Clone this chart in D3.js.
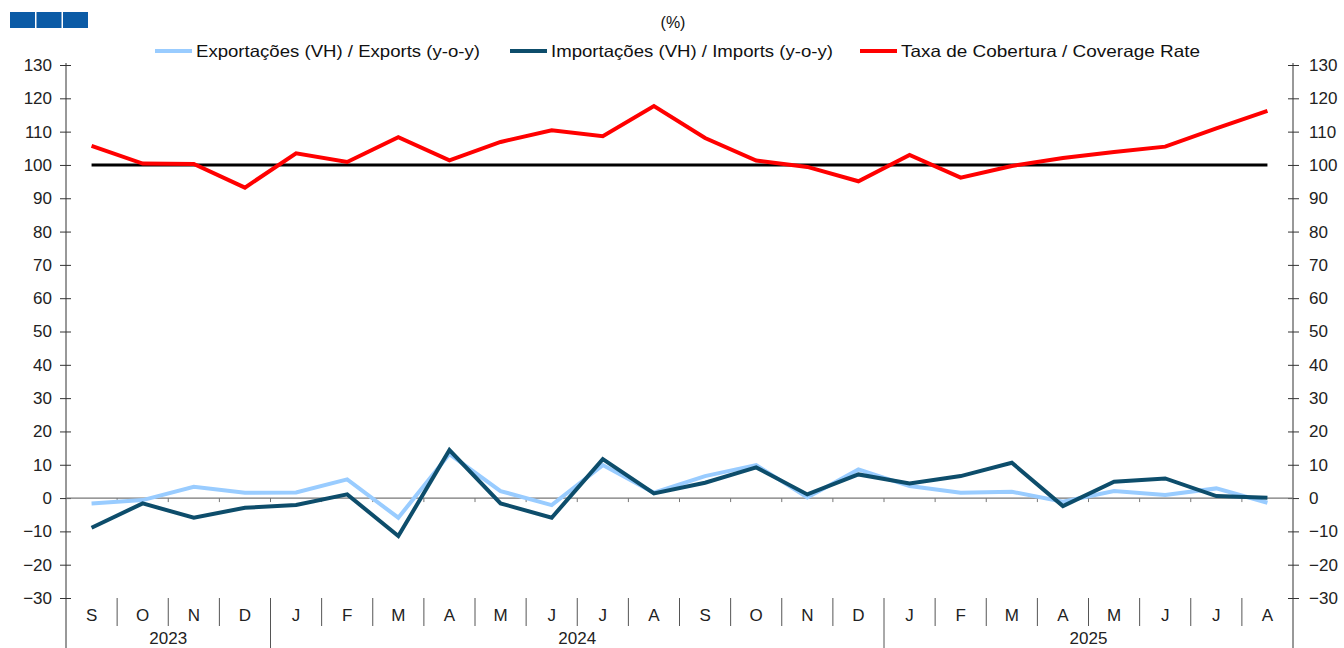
<!DOCTYPE html>
<html>
<head>
<meta charset="utf-8">
<script src="https://cdn.jsdelivr.net/npm/d3@7"></script>
<style>
  body { margin: 0; background: #fff; }
  svg { font-family: "Liberation Sans", Arial, sans-serif; }
</style>
</head>
<body>
<div id="chart"></div>
<script>
// months shown on the x axis, Sep 2023 - Aug 2025
var months = ["S","O","N","D","J","F","M","A","M","J","J","A","S","O","N","D","J","F","M","A","M","J","J","A"];
var years = [
  {label: "2023", from: 0, to: 4},
  {label: "2024", from: 4, to: 16},
  {label: "2025", from: 16, to: 24}
];

// series values (%)
var exportsYoy = [-1.6, -0.6, 3.4, 1.6, 1.7, 5.6, -5.9, 13.2, 2.1, -2.1, 9.9, 1.6, 6.6, 9.9, 0.2, 8.6, 3.6, 1.6, 1.9, -1.1, 2.1, 0.9, 2.9, -1.4];
var importsYoy = [-8.9, -1.6, -5.9, -2.9, -2.1, 1.1, -11.4, 14.4, -1.6, -5.9, 11.7, 1.4, 4.6, 9.2, 1.1, 7.1, 4.4, 6.6, 10.6, -2.4, 4.9, 5.9, 0.6, 0.1];
var coverage = [105.7, 100.4, 100.3, 93.2, 103.5, 100.9, 108.3, 101.4, 106.9, 110.4, 108.6, 117.7, 108.1, 101.3, 99.4, 95.1, 103.0, 96.2, 99.7, 102.1, 103.9, 105.5, 111.0, 116.2];

var yTicks = d3.range(-30, 131, 10);

var series = [
  {name: "Exportações (VH) / Exports (y-o-y)", values: exportsYoy, color: "#99ccff"},
  {name: "Importações (VH) / Imports (y-o-y)", values: importsYoy, color: "#0d4d6b"},
  {name: "Taxa de Cobertura / Coverage Rate", values: coverage, color: "#ff0000"}
];

var W = 1344, H = 648;
var margin = {left: 66, right: 1293, top: 65, bottom: 598};

var svg = d3.select("#chart").append("svg")
  .attr("width", W).attr("height", H);

// logo squares
svg.append("g").selectAll("rect")
  .data([0, 1, 2]).enter().append("rect")
    .attr("x", function(d) { return 10 + d * 26.5; })
    .attr("y", 12)
    .attr("width", 25)
    .attr("height", 16)
    .attr("fill", "#0b5ba6");

svg.append("text")
  .attr("x", 673).attr("y", 28)
  .attr("text-anchor", "middle")
  .attr("font-size", 16)
  .attr("fill", "#111")
  .text("(%)");

// scales
var x = d3.scaleBand()
  .domain(d3.range(months.length))
  .range([margin.left, margin.right])
  .padding(0);
var xc = function(i) { return x(i) + x.bandwidth() / 2; };

var y = d3.scaleLinear()
  .domain([-30, 130])
  .range([margin.bottom, margin.top]);

// left axis
var gl = svg.append("g")
  .attr("transform", "translate(" + margin.left + ",0)")
  .call(d3.axisLeft(y).tickValues(yTicks).tickSize(0).tickPadding(14).tickFormat(d3.format("d")));
gl.select(".domain").remove();
gl.selectAll(".tick").append("line").attr("x1", -6).attr("x2", 5).attr("stroke", "#333");
gl.append("line").attr("y1", margin.top - 2).attr("y2", H).attr("stroke", "#333");

// right axis
var gr = svg.append("g")
  .attr("transform", "translate(" + margin.right + ",0)")
  .call(d3.axisRight(y).tickValues(yTicks).tickSize(0).tickPadding(16).tickFormat(d3.format("d")));
gr.select(".domain").remove();
gr.selectAll(".tick").append("line").attr("x1", -5).attr("x2", 6).attr("stroke", "#333");
gr.append("line").attr("y1", margin.top - 2).attr("y2", H).attr("stroke", "#333");

svg.selectAll(".tick text").attr("font-size", 17).attr("fill", "#222")
  .attr("font-family", "Liberation Sans, Arial, sans-serif");

// zero line with month ticks
svg.append("line")
  .attr("x1", margin.left).attr("x2", margin.right)
  .attr("y1", y(0)).attr("y2", y(0))
  .attr("stroke", "#777").attr("stroke-width", 1.2);
svg.append("g").selectAll("line")
  .data(d3.range(1, months.length)).enter().append("line")
    .attr("x1", function(d) { return x(d); })
    .attr("x2", function(d) { return x(d); })
    .attr("y1", y(0)).attr("y2", y(0) + 4)
    .attr("stroke", "#777");

// category axis below the plot
var yearStarts = years.map(function(d) { return d.from; });
svg.append("g").selectAll("line")
  .data(d3.range(1, months.length)).enter().append("line")
    .attr("x1", function(d) { return x(d); })
    .attr("x2", function(d) { return x(d); })
    .attr("y1", margin.bottom)
    .attr("y2", function(d) { return yearStarts.indexOf(d) >= 0 ? H : 626; })
    .attr("stroke", "#555");

svg.append("g").selectAll("text")
  .data(months).enter().append("text")
    .attr("x", function(d, i) { return xc(i); })
    .attr("y", 621)
    .attr("text-anchor", "middle")
    .attr("font-size", 17)
    .attr("fill", "#222")
    .text(function(d) { return d; });

svg.append("g").selectAll("text")
  .data(years).enter().append("text")
    .attr("x", function(d) { return (x(d.from) + (d.to < months.length ? x(d.to) : margin.right)) / 2; })
    .attr("y", 644)
    .attr("text-anchor", "middle")
    .attr("font-size", 17)
    .attr("fill", "#222")
    .text(function(d) { return d.label; });

// 100 reference line
svg.append("line")
  .attr("x1", xc(0)).attr("x2", xc(months.length - 1))
  .attr("y1", y(100)).attr("y2", y(100))
  .attr("stroke", "#000").attr("stroke-width", 3);

// series lines
var line = d3.line()
  .x(function(d, i) { return xc(i); })
  .y(function(d) { return y(d); });

svg.append("g").selectAll("path")
  .data(series).enter().append("path")
    .attr("d", function(d) { return line(d.values); })
    .attr("fill", "none")
    .attr("stroke", function(d) { return d.color; })
    .attr("stroke-width", 4)
    .attr("stroke-linejoin", "miter");

// legend
var legendX = [155, 510, 860];
var legendW = [284, 282, 299];
var lg = svg.append("g").selectAll("g")
  .data(series).enter().append("g")
    .attr("transform", function(d, i) { return "translate(" + legendX[i] + ",51)"; });
lg.append("line")
  .attr("x1", 0).attr("x2", 37)
  .attr("stroke", function(d) { return d.color; })
  .attr("stroke-width", 4);
lg.append("text")
  .attr("x", 41).attr("y", 6)
  .attr("font-size", 16.5)
  .attr("fill", "#111")
  .attr("textLength", function(d, i) { return legendW[i]; })
  .attr("lengthAdjust", "spacingAndGlyphs")
  .text(function(d) { return d.name; });
</script>
</body>
</html>
